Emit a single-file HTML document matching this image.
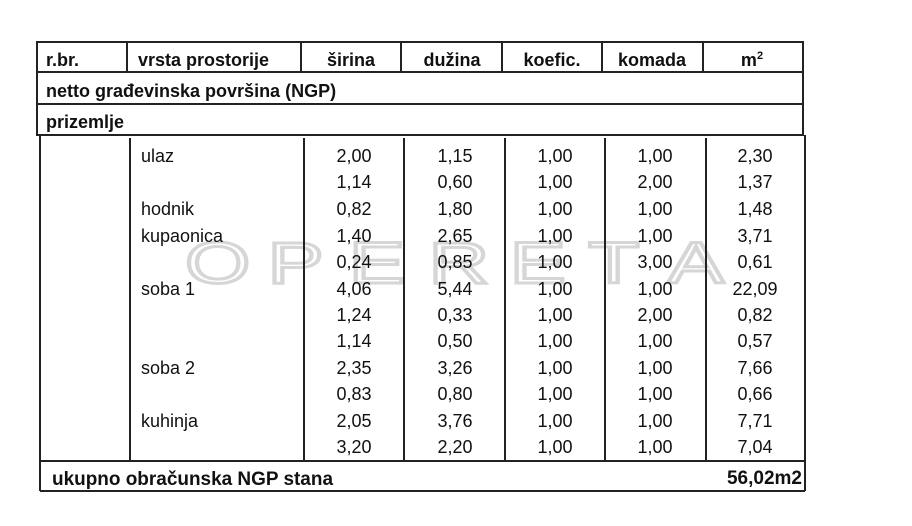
<!DOCTYPE html>
<html><head><meta charset="utf-8"><style>
html,body{margin:0;padding:0;background:#fff;width:912px;height:526px;overflow:hidden}
svg text{font-family:"Liberation Sans",Arial,sans-serif;fill:#111}
.h{font-weight:bold;font-size:18px}
.b{font-size:18px}
.w{font-size:58px;fill:none;stroke:#d6d6d6;stroke-width:3}
</style></head><body>
<svg width="912" height="526" viewBox="0 0 912 526" xmlns="http://www.w3.org/2000/svg">
<g transform="translate(185,283) scale(1.45,1)">
<text class="w" x="0" y="0">O</text>
<text class="w" x="57" y="0">P</text>
<text class="w" x="113" y="0">E</text>
<text class="w" x="168" y="0">R</text>
<text class="w" x="224" y="0">E</text>
<text class="w" x="278" y="0">T</text>
<text class="w" x="333" y="0">A</text>
</g>
<g stroke="#222" stroke-width="2" fill="none">
<rect x="37" y="42" width="766" height="93"/>
<line x1="37" y1="72" x2="803" y2="72"/>
<line x1="37" y1="104" x2="803" y2="104"/>
<line x1="127" y1="42" x2="127" y2="72"/>
<line x1="301" y1="42" x2="301" y2="72"/>
<line x1="401" y1="42" x2="401" y2="72"/>
<line x1="502" y1="42" x2="502" y2="72"/>
<line x1="602" y1="42" x2="602" y2="72"/>
<line x1="703" y1="42" x2="703" y2="72"/>
<line x1="40" y1="135" x2="40" y2="491"/>
<line x1="805" y1="135" x2="805" y2="491"/>
<line x1="130" y1="138" x2="130" y2="460"/>
<line x1="304" y1="138" x2="304" y2="460"/>
<line x1="404" y1="138" x2="404" y2="460"/>
<line x1="505" y1="138" x2="505" y2="460"/>
<line x1="605" y1="138" x2="605" y2="460"/>
<line x1="706" y1="138" x2="706" y2="460"/>
<line x1="40" y1="461" x2="805" y2="461"/>
<line x1="40" y1="491" x2="805" y2="491"/>
</g>
<text class="h" x="46" y="66">r.br.</text>
<text class="h" x="138" y="66">vrsta prostorije</text>
<text class="h" x="351" y="66" text-anchor="middle">širina</text>
<text class="h" x="452" y="66" text-anchor="middle">dužina</text>
<text class="h" x="552" y="66" text-anchor="middle">koefic.</text>
<text class="h" x="652" y="66" text-anchor="middle">komada</text>
<text class="h" x="752" y="66" text-anchor="middle">m<tspan dy="-7" style="font-size:11px">2</tspan></text>
<text class="h" x="46" y="97">netto građevinska površina (NGP)</text>
<text class="h" x="46" y="128">prizemlje</text>
<g>
<text class="b" x="141" y="162">ulaz</text>
<text class="b" x="141" y="215">hodnik</text>
<text class="b" x="141" y="242">kupaonica</text>
<text class="b" x="141" y="295">soba 1</text>
<text class="b" x="141" y="374">soba 2</text>
<text class="b" x="141" y="427">kuhinja</text>
</g>
<g text-anchor="middle">
<text class="b" x="354" y="162">2,00</text><text class="b" x="455" y="162">1,15</text><text class="b" x="555" y="162">1,00</text><text class="b" x="655" y="162">1,00</text><text class="b" x="755" y="162">2,30</text>
<text class="b" x="354" y="188">1,14</text><text class="b" x="455" y="188">0,60</text><text class="b" x="555" y="188">1,00</text><text class="b" x="655" y="188">2,00</text><text class="b" x="755" y="188">1,37</text>
<text class="b" x="354" y="215">0,82</text><text class="b" x="455" y="215">1,80</text><text class="b" x="555" y="215">1,00</text><text class="b" x="655" y="215">1,00</text><text class="b" x="755" y="215">1,48</text>
<text class="b" x="354" y="242">1,40</text><text class="b" x="455" y="242">2,65</text><text class="b" x="555" y="242">1,00</text><text class="b" x="655" y="242">1,00</text><text class="b" x="755" y="242">3,71</text>
<text class="b" x="354" y="268">0,24</text><text class="b" x="455" y="268">0,85</text><text class="b" x="555" y="268">1,00</text><text class="b" x="655" y="268">3,00</text><text class="b" x="755" y="268">0,61</text>
<text class="b" x="354" y="295">4,06</text><text class="b" x="455" y="295">5,44</text><text class="b" x="555" y="295">1,00</text><text class="b" x="655" y="295">1,00</text><text class="b" x="755" y="295">22,09</text>
<text class="b" x="354" y="321">1,24</text><text class="b" x="455" y="321">0,33</text><text class="b" x="555" y="321">1,00</text><text class="b" x="655" y="321">2,00</text><text class="b" x="755" y="321">0,82</text>
<text class="b" x="354" y="347">1,14</text><text class="b" x="455" y="347">0,50</text><text class="b" x="555" y="347">1,00</text><text class="b" x="655" y="347">1,00</text><text class="b" x="755" y="347">0,57</text>
<text class="b" x="354" y="374">2,35</text><text class="b" x="455" y="374">3,26</text><text class="b" x="555" y="374">1,00</text><text class="b" x="655" y="374">1,00</text><text class="b" x="755" y="374">7,66</text>
<text class="b" x="354" y="400">0,83</text><text class="b" x="455" y="400">0,80</text><text class="b" x="555" y="400">1,00</text><text class="b" x="655" y="400">1,00</text><text class="b" x="755" y="400">0,66</text>
<text class="b" x="354" y="427">2,05</text><text class="b" x="455" y="427">3,76</text><text class="b" x="555" y="427">1,00</text><text class="b" x="655" y="427">1,00</text><text class="b" x="755" y="427">7,71</text>
<text class="b" x="354" y="453">3,20</text><text class="b" x="455" y="453">2,20</text><text class="b" x="555" y="453">1,00</text><text class="b" x="655" y="453">1,00</text><text class="b" x="755" y="453">7,04</text>
</g>
<text x="52" y="485" textLength="281" lengthAdjust="spacingAndGlyphs" style="font-size:19px;font-weight:bold">ukupno obračunska NGP stana</text>
<text x="802" y="484" text-anchor="end" style="font-size:19px;font-weight:bold">56,02m2</text>
</svg>
</body></html>
